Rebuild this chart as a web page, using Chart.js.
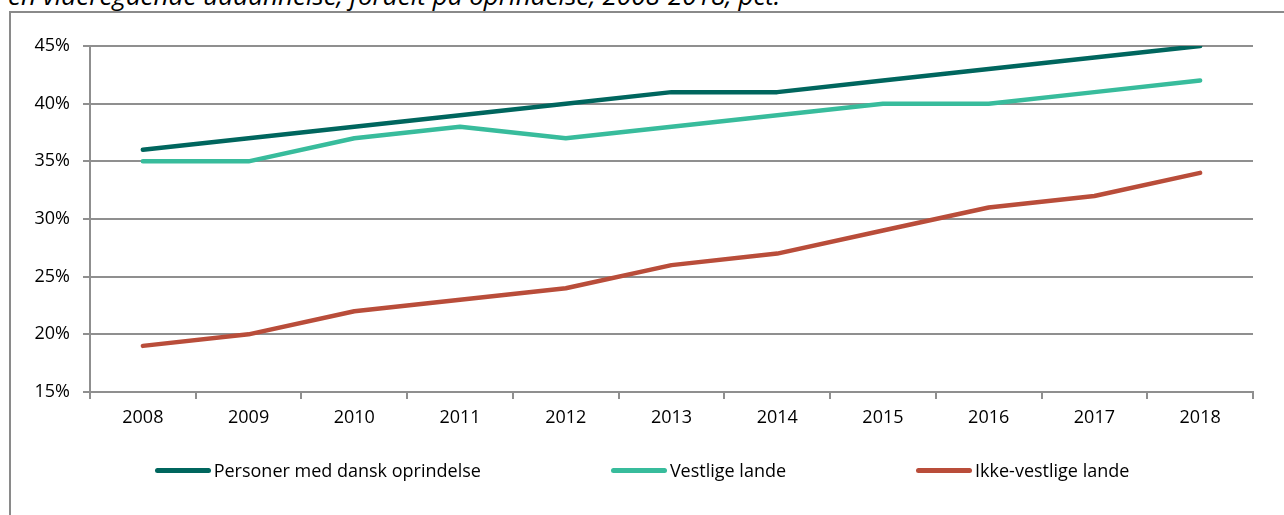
<!DOCTYPE html>
<html>
<head>
<meta charset="utf-8">
<script src="https://cdn.jsdelivr.net/npm/chart.js@4.4.1/dist/chart.umd.min.js"></script>
<style>
	html, body { margin: 0; padding: 0; background: #fff; overflow: hidden; }
	body { width: 1284px; height: 515px; position: relative; font-family: 'Open Sans', sans-serif; }
	#caption { position: absolute; left: 8px; top: -22px; font-size: 26px; line-height: 35px; font-style: italic; color: #000; white-space: nowrap; }
	#frame { position: absolute; left: 9px; top: 11px; width: 1300px; height: 530px; border: 2px solid #8a8a8a; box-sizing: border-box; }
	#wrap { position: absolute; left: 0; top: 0; width: 1284px; height: 515px; }
	#legend { position: absolute; left: 0; top: 458px; width: 1284px; display: flex; justify-content: center; font-size: 18px; color: #000; }
	#legend .item { display: flex; align-items: center; margin: 0 65px; }
	#legend .swatch { width: 56px; height: 5px; border-radius: 3px; margin-right: 3px; }
</style>
</head>
<body>
<div id="caption">en videregående uddannelse, fordelt på oprindelse, 2008-2018, pct.</div>
<div id="frame"></div>
<div id="wrap"><canvas id="chart" width="1284" height="515"></canvas></div>
<div id="legend"></div>
<script>
	'use strict';

	// Data (pct.)
	var years = ['2008', '2009', '2010', '2011', '2012', '2013', '2014', '2015', '2016', '2017', '2018'];
	var danskOprindelse = [36, 37, 38, 39, 40, 41, 41, 42, 43, 44, 45];
	var vestligeLande = [35, 35, 37, 38, 37, 38, 39, 40, 40, 41, 42];
	var ikkeVestligeLande = [19, 20, 22, 23, 24, 26, 27, 29, 31, 32, 34];
	var seriesNames = ['Personer med dansk oprindelse', 'Vestlige lande', 'Ikke-vestlige lande'];
	var seriesColors = ['#00665e', '#38bc9c', '#b94d3a'];

	var gridColor = '#8f8f8f';

	function line(label, data, color) {
		return {
			label: label,
			data: data,
			borderColor: color,
			backgroundColor: color,
			borderWidth: 4.5,
			borderCapStyle: 'round',
			borderJoinStyle: 'round',
			pointRadius: 0,
			tension: 0,
			fill: false
		};
	}

	var chart = new Chart(document.getElementById('chart'), {
		type: 'line',
		data: {
			labels: years,
			datasets: [
				line(seriesNames[0], danskOprindelse, seriesColors[0]),
				line(seriesNames[1], vestligeLande, seriesColors[1]),
				line(seriesNames[2], ikkeVestligeLande, seriesColors[2])
			]
		},
		options: {
			responsive: false,
			animation: false,
			layout: { padding: { left: 0, right: 31, top: 46, bottom: 83 } },
			plugins: { legend: { display: false }, tooltip: { enabled: false } },
			scales: {
				x: {
					offset: true,
					grid: { offset: true, drawOnChartArea: false, color: gridColor, lineWidth: 2, tickLength: 7 },
					border: { color: gridColor, width: 2 },
					ticks: { color: '#000', padding: 8, font: { family: 'Open Sans', size: 18 } },
					afterFit: function (scale) { scale.height = 40; }
				},
				y: {
					min: 15,
					max: 45,
					grid: { color: gridColor, lineWidth: 2, tickLength: 7 },
					border: { color: gridColor, width: 2 },
					ticks: {
						stepSize: 5,
						color: '#000',
						padding: 13,
						font: { family: 'Open Sans', size: 18 },
						callback: function (v) { return v + '%'; }
					},
					afterFit: function (scale) { scale.width = 90; }
				}
			}
		}
	});

	// Legend as plain text below the chart
	var legend = document.getElementById('legend');
	seriesNames.forEach(function (name, i) {
		var item = document.createElement('div'),
			swatch = document.createElement('span'),
			text = document.createElement('span');
		item.className = 'item';
		swatch.className = 'swatch';
		swatch.style.background = seriesColors[i];
		text.textContent = name;
		item.appendChild(swatch);
		item.appendChild(text);
		legend.appendChild(item);
	});
</script>
</body>
</html>
